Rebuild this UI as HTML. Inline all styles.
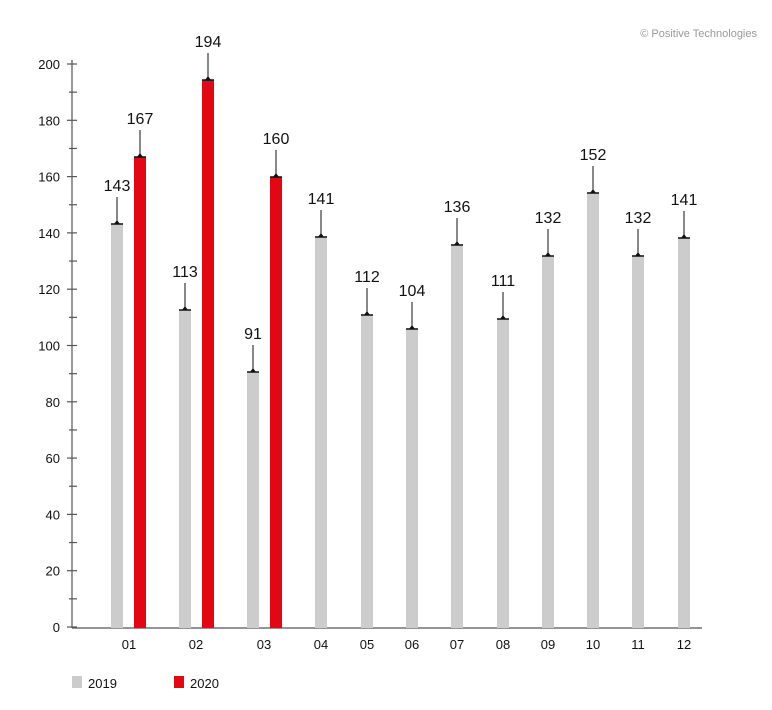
<!DOCTYPE html>
<html><head><style>body{margin:0;background:#fff}svg{display:block}text{font-family:"Liberation Sans",sans-serif}</style></head><body>
<svg width="772" height="710" xmlns="http://www.w3.org/2000/svg">
<text x="757" y="37" font-size="11" fill="#999" text-anchor="end">© Positive Technologies</text>
<g id="axis" stroke="#555" stroke-width="1.2">
<line x1="72" y1="60" x2="72" y2="628"/>
<line x1="72" y1="628" x2="702" y2="628"/>
</g>
<g id="ticks"></g>
<g id="bars"></g>
<rect x="72" y="676" width="10" height="12" fill="#ccc"/>
<text x="88" y="688" font-size="13" fill="#111">2019</text>
<rect x="174" y="676" width="10" height="12" fill="#e30613"/>
<text x="190" y="688" font-size="13" fill="#111">2020</text>
<script>
var s="http://www.w3.org/2000/svg";
function el(n,a,p,t){var e=document.createElementNS(s,n);for(var k in a)e.setAttribute(k,a[k]);if(t!=null)e.textContent=t;document.getElementById(p).appendChild(e);}
for(var v=0;v<=200;v+=10){var y=627-v*2.815;el('line',{x1:v%20?69:67,x2:77,y1:y,y2:y,stroke:'#555','stroke-width':1.2},'ticks');
if(v%20==0)el('text',{x:60,y:y+5,'font-size':13,'text-anchor':'end',fill:'#111'},'ticks',v);}
var d=[[111,224,'143','#ccc'],[134,157,'167','#e30613'],[179,310,'113','#ccc'],[202,80,'194','#e30613'],[247,372,'91','#ccc'],[270,177,'160','#e30613'],[315,237,'141','#ccc'],[361,315,'112','#ccc'],[406,329,'104','#ccc'],[451,245,'136','#ccc'],[497,319,'111','#ccc'],[542,256,'132','#ccc'],[587,193,'152','#ccc'],[632,256,'132','#ccc'],[678,238,'141','#ccc']];
d.forEach(function(b){var cx=b[0]+6;el('rect',{x:b[0],y:b[1],width:12,height:628-b[1],fill:b[3]},'bars');
el('line',{x1:b[0],x2:b[0]+12,y1:b[1],y2:b[1],stroke:'#111','stroke-width':1.5},'bars');
el('line',{x1:cx,x2:cx,y1:b[1],y2:b[1]-27,stroke:'#111','stroke-width':1},'bars');
el('path',{d:'M'+(cx-3)+' '+b[1]+'L'+cx+' '+(b[1]-4)+'L'+(cx+3)+' '+b[1]+'Z',fill:'#111'},'bars');
el('text',{x:cx,y:b[1]-33,'font-size':16,'text-anchor':'middle',fill:'#111'},'bars',b[2]);});
var m=[[129,'01'],[196,'02'],[264,'03'],[321,'04'],[367,'05'],[412,'06'],[457,'07'],[503,'08'],[548,'09'],[593,'10'],[638,'11'],[684,'12']];
m.forEach(function(a){el('text',{x:a[0],y:649,'font-size':13,'text-anchor':'middle',fill:'#111'},'bars',a[1]);});
</script>
</svg>
</body></html>
